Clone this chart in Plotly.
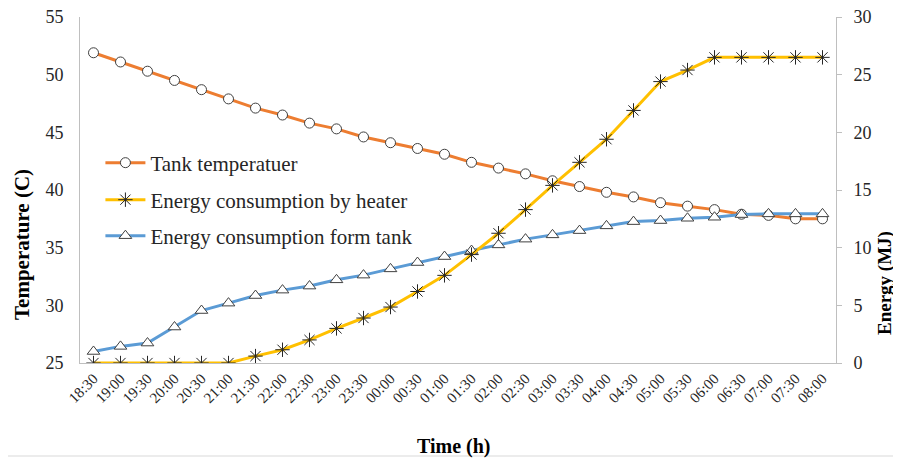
import plotly.graph_objects as go

times = ["18:30", "19:00", "19:30", "20:00", "20:30", "21:00", "21:30", "22:00", "22:30", "23:00",
         "23:30", "00:00", "00:30", "01:00", "01:30", "02:00", "02:30", "03:00", "03:30", "04:00",
         "04:30", "05:00", "05:30", "06:00", "06:30", "07:00", "07:30", "08:00"]

tank_temperature = [51.9, 51.1, 50.3, 49.5, 48.7, 47.9, 47.1, 46.5, 45.8, 45.3,
                    44.6, 44.1, 43.6, 43.1, 42.4, 41.9, 41.4, 40.8, 40.3, 39.8,
                    39.4, 38.9, 38.6, 38.3, 37.9, 37.8, 37.5, 37.5]

energy_heater = [0, 0, 0, 0, 0, 0, 0.6, 1.15, 2.0, 3.0,
                 3.9, 4.85, 6.2, 7.6, 9.4, 11.25, 13.3, 15.4, 17.4, 19.4,
                 21.9, 24.4, 25.4, 26.5, 26.5, 26.5, 26.5, 26.5]

energy_tank = [1.0, 1.44, 1.73, 3.12, 4.55, 5.19, 5.85, 6.32, 6.67, 7.21,
               7.62, 8.16, 8.71, 9.23, 9.75, 10.24, 10.74, 11.11, 11.48, 11.89,
               12.26, 12.35, 12.55, 12.64, 12.87, 12.93, 12.93, 12.93]

FONT = "Liberation Serif"
MK_LINE = "#404040"

fig = go.Figure()

fig.add_trace(go.Scatter(
    x=times, y=energy_tank, name="Energy consumption form tank", yaxis="y2",
    mode="lines+markers", legend="legend3", showlegend=True,
    line=dict(color="#5B9BD5", width=3),
    marker=dict(symbol="triangle-up", size=11, color="white", line=dict(color=MK_LINE, width=1)),
))
fig.add_trace(go.Scatter(
    x=times, y=energy_heater, name="Energy consumption by heater", yaxis="y2",
    mode="lines+markers", legend="legend2", showlegend=True,
    line=dict(color="#FFC000", width=3),
    marker=dict(symbol="asterisk-open", size=12, color="#262626", line=dict(color="#262626", width=1)),
))
fig.add_trace(go.Scatter(
    x=times, y=tank_temperature, name="Tank temperatuer", yaxis="y",
    mode="lines+markers", legend="legend", showlegend=True,
    line=dict(color="#ED7D31", width=3),
    marker=dict(symbol="circle", size=10, color="white", line=dict(color=MK_LINE, width=1)),
))

legend_common = dict(
    xanchor="left", yanchor="middle", bgcolor="rgba(0,0,0,0)",
    font=dict(family=FONT, size=21, color="#262626"),
    itemwidth=40,
)

# page body adds an 8px offset; figure is sized so the visible frame matches 901x460
fig.update_layout(
    width=893, height=452,
    margin=dict(l=72, r=65, t=9, b=97, autoexpand=False),
    showlegend=True,
    paper_bgcolor="white", plot_bgcolor="white",
    font=dict(family=FONT, color="#262626"),
    legend=dict(x=0.027, y=0.578, **legend_common),
    legend2=dict(x=0.027, y=0.471, **legend_common),
    legend3=dict(x=0.027, y=0.367, **legend_common),
    xaxis=dict(
        type="category", range=[-0.5, len(times) - 0.5],
        tickangle=-45, tickfont=dict(family=FONT, size=15, color="#262626"),
        showline=True, linecolor="#BFBFBF", linewidth=1,
        showgrid=False, ticks="", zeroline=False, automargin=False,
    ),
    yaxis=dict(
        range=[25, 55], dtick=5, tickfont=dict(family=FONT, size=18, color="#262626"),
        showline=True, linecolor="#BFBFBF", linewidth=1,
        showgrid=False, ticks="", zeroline=False, ticklabelstandoff=12,
        ticklabeloverflow="allow", automargin=False,
    ),
    yaxis2=dict(
        range=[0, 30], dtick=5, overlaying="y", side="right",
        tickfont=dict(family=FONT, size=18, color="#262626"),
        showline=True, linecolor="#BFBFBF", linewidth=1,
        showgrid=False, ticks="outside", ticklen=5, tickcolor="#BFBFBF", zeroline=False,
        ticklabelstandoff=8, ticklabeloverflow="allow", automargin=False,
    ),
    annotations=[
        dict(text="<b>Temperature (C)</b>", xref="paper", yref="paper",
             x=(22 - 80) / 756, y=(363 - 245) / 346, textangle=-90, showarrow=False,
             xanchor="center", yanchor="middle", font=dict(family=FONT, size=21, color="black")),
        dict(text="<b>Energy (MJ)</b>", xref="paper", yref="paper",
             x=(885 - 80) / 756, y=(363 - 283) / 346, textangle=-90, showarrow=False,
             xanchor="center", yanchor="middle", font=dict(family=FONT, size=19, color="black")),
        dict(text="<b>Time (h)</b>", xref="paper", yref="paper",
             x=(454 - 80) / 756, y=(363 - 446) / 346, showarrow=False,
             xanchor="center", yanchor="middle", font=dict(family=FONT, size=20, color="black")),
    ],
    shapes=[
        dict(type="rect", xref="paper", yref="paper",
             x0=(3 - 80) / 756, x1=(897 - 80) / 756, y0=(363 - 456) / 346, y1=(363 - 5) / 346,
             line=dict(color="#D9D9D9", width=1), fillcolor="rgba(0,0,0,0)", layer="below"),
    ],
)

fig.write_html("out.html")
